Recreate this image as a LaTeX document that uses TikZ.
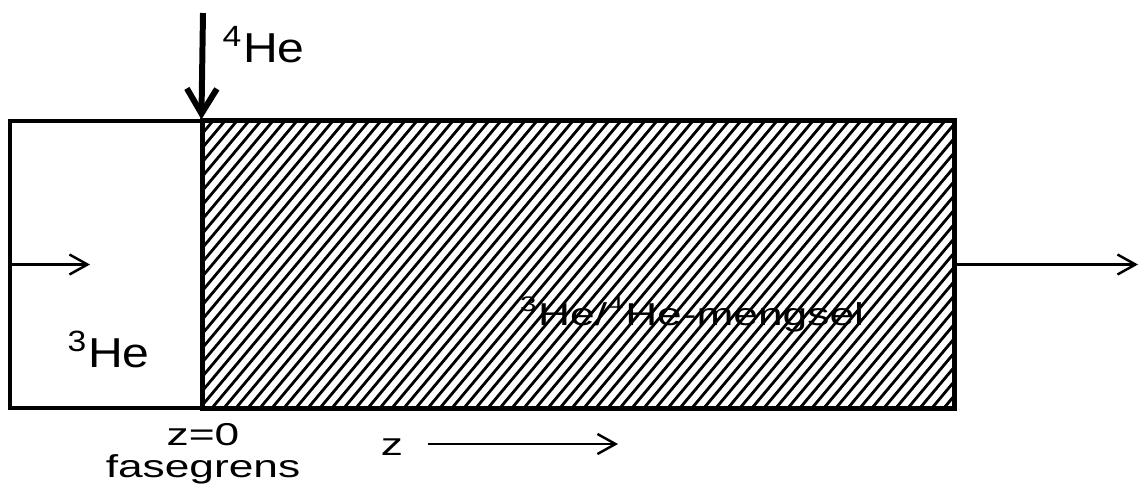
\documentclass[tikz,border=0pt]{standalone}
\usepackage{fontspec}
\setmainfont{Liberation Sans}
\newfontfamily\bigfont[FakeStretch=1.15]{Liberation Sans}
\newfontfamily\smallfont[FakeStretch=1.4]{Liberation Sans}
\usetikzlibrary{arrows.meta}

\begin{document}
\begin{tikzpicture}[
    wall/.style={draw, line width=0.9pt, inner sep=0, minimum height=2.87cm},
    flow/.style={-{Straight Barb[length=1.8mm, width=2mm]}, line width=0.7pt},
    big/.style={inner sep=0, font=\bigfont\fontsize{11.9}{14}\selectfont},
    small/.style={inner sep=0, font=\smallfont\fontsize{9}{11}\selectfont}
]
    \useasboundingbox (0, 0) rectangle (11.4, 4.84);

    % The two phases
    \node[wall, minimum width=1.93cm] (pure) at (1.065, 2.195) {};
    \node[wall, minimum width=7.51cm] (mix) at (5.785, 2.195) {};

    % Hatching of the mixture
    \begin{scope}
        \clip (mix.south west) rectangle (mix.north east);
        \foreach \x in {-0.4, -0.28, ..., 9.6} {
            \draw[line width=0.8pt] (\x, 0.76) -- ++(50:4);
        }
    \end{scope}
    \draw[line width=0.9pt] (mix.south west) rectangle (mix.north east);

    % Flows in and out
    \coordinate (feed) at (2.03, 4.71);
    \coordinate (inlet) at (0.90, 2.195);
    \coordinate (outlet) at (11.38, 2.195);
    \draw[-{Straight Barb[length=2.5mm, width=3mm]}, line width=1.7pt] (feed) -- (mix.north west);
    \draw[flow] (pure.west) -- (inlet);
    \draw[flow] (mix.east) -- (outlet);

    % Labels
    \node[big, anchor=base west] (helium4) at (2.22, 4.22) {\textsuperscript{4}He};
    \node[big, anchor=base west] (helium3) at (0.67, 1.17) {\textsuperscript{3}He};
    \node[small, anchor=base] (mixture) at (6.92, 1.59) {\textsuperscript{3}He/\textsuperscript{4}He-mengsel};
    \node[small, anchor=base] (origin) at (2.03, 0.39) {z=0};
    \node[small, anchor=base] (boundary) at (2.03, 0.07) {fasegrens};

    % Direction of z
    \node[small, anchor=base] (zaxis) at (3.92, 0.29) {z};
    \coordinate (zstart) at (4.28, 0.40);
    \coordinate (zend) at (6.18, 0.40);
    \draw[flow] (zstart) -- (zend);
\end{tikzpicture}
\end{document}
